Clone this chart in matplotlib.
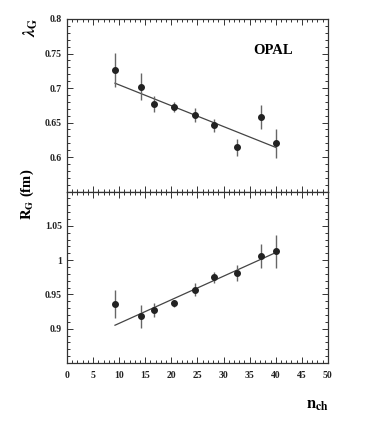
import numpy as np
import matplotlib
matplotlib.use("Agg")
import matplotlib.pyplot as plt
from matplotlib.ticker import MultipleLocator

plt.rcParams["font.family"] = ["Liberation Serif", "DejaVu Serif"]
plt.rcParams["font.weight"] = "bold"
plt.rcParams["mathtext.fontset"] = "stix"

# ── data ────────────────────────────────────────────────────────────────────
n_ch = [9.2, 14.1, 16.7, 20.6, 24.6, 28.1, 32.6, 37.1, 40.1]

lam = [0.726, 0.702, 0.677, 0.673, 0.661, 0.646, 0.614, 0.658, 0.620]
lam_err = [0.025, 0.020, 0.012, 0.007, 0.010, 0.009, 0.012, 0.018, 0.021]
lam_fit_x = [9.2, 40.0]
lam_fit_y = [0.707, 0.614]

rg = [0.936, 0.918, 0.927, 0.937, 0.957, 0.975, 0.981, 1.006, 1.013]
rg_err = [0.020, 0.017, 0.010, 0.005, 0.009, 0.008, 0.012, 0.017, 0.024]
rg_fit_x = [9.2, 40.0]
rg_fit_y = [0.905, 1.011]

# ── figure ──────────────────────────────────────────────────────────────────
fig = plt.figure(figsize=(3.66, 4.22), dpi=100)
left, width = 0.183, 0.713
ax1 = fig.add_axes([left, 0.546, width, 0.409])
ax2 = fig.add_axes([left, 0.140, width, 0.406])


def style(ax, ylo, yhi):
    ax.set_xlim(0, 50)
    ax.set_ylim(ylo, yhi)
    ax.xaxis.set_major_locator(MultipleLocator(5))
    ax.xaxis.set_minor_locator(MultipleLocator(1))
    ax.yaxis.set_major_locator(MultipleLocator(0.05))
    ax.yaxis.set_minor_locator(MultipleLocator(0.01))
    ax.tick_params(which="both", direction="in", top=True, right=True,
                   colors="#333333", width=0.7)
    ax.tick_params(which="major", length=4, labelsize=7, labelcolor="#222222")
    ax.tick_params(which="minor", length=2)
    for s in ax.spines.values():
        s.set_color("#333333")
        s.set_linewidth(0.9)


def draw(ax, y, yerr, fx, fy):
    ax.errorbar(n_ch, y, yerr=yerr, fmt="o", ms=4.0, color="#222222",
                ecolor="#666666", elinewidth=1.0, capsize=0, zorder=3)
    ax.plot(fx, fy, color="#444444", lw=0.9, zorder=2)


style(ax1, 0.55, 0.8)
style(ax2, 0.85, 1.10)
draw(ax1, lam, lam_err, lam_fit_x, lam_fit_y)
draw(ax2, rg, rg_err, rg_fit_x, rg_fit_y)

ax1.tick_params(labelbottom=False)
ax1.set_yticks([0.6, 0.65, 0.7, 0.75, 0.8])
ax1.set_yticklabels(["0.6", "0.65", "0.7", "0.75", "0.8"])
ax2.set_yticks([0.9, 0.95, 1.0, 1.05])
ax2.set_yticklabels(["0.9", "0.95", "1", "1.05"])
ax2.set_xticks(range(0, 51, 5))
ax2.set_xticklabels([str(v) for v in range(0, 51, 5)])
ax2.tick_params(axis="x", pad=6)

ax1.text(39.4, 0.754, "OPAL", ha="center", va="center",
         fontsize=10.5, fontweight="bold")

fig.text(0.085, 0.936, r"$\lambda_{\rm G}$", rotation=90,
         ha="center", va="center", fontsize=12)
fig.text(0.074, 0.540, r"$\mathbf{R_G}$ (fm)", rotation=90,
         ha="center", va="center", fontsize=10.5, fontweight="bold")
fig.text(0.866, 0.040, r"$\mathbf{n_{ch}}$", ha="center", va="center",
         fontsize=12)

fig.savefig("out.png", dpi=100, facecolor="white")
